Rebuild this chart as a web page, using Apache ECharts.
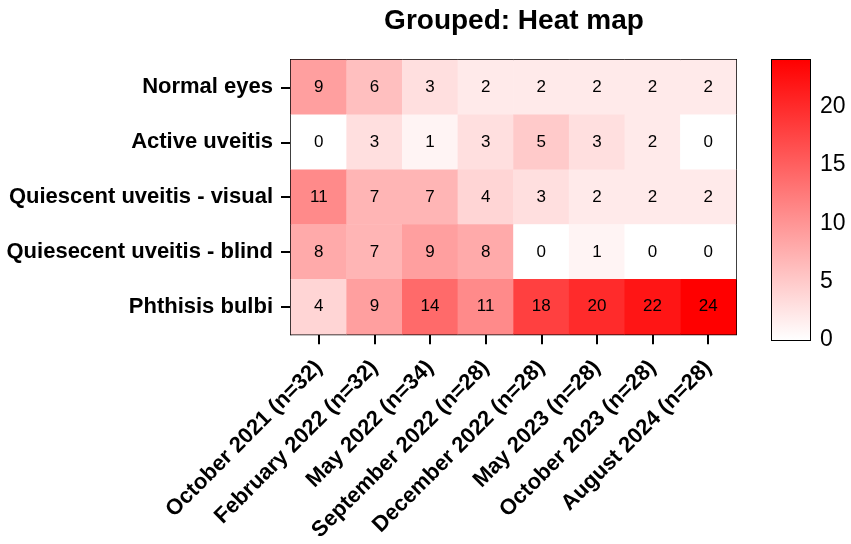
<!DOCTYPE html>
<html><head><meta charset="utf-8">
<script src="https://cdn.jsdelivr.net/npm/echarts@6/dist/echarts.min.js"></script>
<style>html,body{margin:0;padding:0;background:#fff}#c{width:851px;height:544px}</style>
</head><body><div id="c"></div>
<script>
const title = 'Grouped: Heat map';
const timepoints = ['October 2021 (n=32)','February 2022 (n=32)','May 2022 (n=34)','September 2022 (n=28)','December 2022 (n=28)','May 2023 (n=28)','October 2023 (n=28)','August 2024 (n=28)'];
const groups = ['Normal eyes','Active uveitis','Quiescent uveitis - visual','Quiesecent uveitis - blind','Phthisis bulbi'];
const normalEyes = [9,6,3,2,2,2,2,2];
const activeUveitis = [0,3,1,3,5,3,2,0];
const quiescentVisual = [11,7,7,4,3,2,2,2];
const quiescentBlind = [8,7,9,8,0,1,0,0];
const phthisisBulbi = [4,9,14,11,18,20,22,24];
const scaleMin = 0, scaleMax = 24, scaleStep = 5;

const rows = [normalEyes, activeUveitis, quiescentVisual, quiescentBlind, phthisisBulbi];
const cells = [];
rows.forEach((r, yi) => r.forEach((v, xi) => cells.push([xi, yi, v])));

const font = '"Liberation Sans", Arial, sans-serif';
const chart = echarts.init(document.getElementById('c'));
chart.setOption({
  animation: false,
  textStyle: {fontFamily: font},
  title: {text: title, left: 509, top: 2, textAlign: 'center',
    textStyle: {fontFamily: font, fontSize: 28, fontWeight: 'bold', color: '#000'}},
  grid: [
    {left: 291, top: 60, width: 445, height: 279, show: true, borderColor: '#000', borderWidth: 2, backgroundColor: 'transparent', containLabel: false},
    {left: 772, top: 60, width: 38, height: 280, show: true, borderColor: '#000', borderWidth: 2, backgroundColor: 'transparent', containLabel: false}
  ],
  xAxis: [
    {type: 'category', gridIndex: 0, data: timepoints, position: 'bottom',
      axisLine: {show: true, lineStyle: {color: '#000', width: 2}},
      axisTick: {show: true, alignWithLabel: true, length: 10, lineStyle: {color: '#000', width: 2}},
      axisLabel: {rotate: 45, interval: 0, color: '#000', fontFamily: font, fontSize: 22, fontWeight: 'bold', margin: 30},
      splitLine: {show: false}},
    {type: 'category', gridIndex: 1, data: ['scale'], show: false}
  ],
  yAxis: [
    {type: 'category', gridIndex: 0, data: groups, inverse: true,
      axisLine: {show: true, lineStyle: {color: '#000', width: 2}},
      axisTick: {show: true, alignWithLabel: true, length: 10, lineStyle: {color: '#000', width: 2}},
      axisLabel: {color: '#000', fontFamily: font, fontSize: 22, fontWeight: 'bold', margin: 18},
      splitLine: {show: false}},
    {type: 'value', gridIndex: 1, position: 'left', min: scaleMin, max: scaleMax, interval: scaleStep,
      axisLine: {show: false},
      axisTick: {show: true, inside: true, length: 7, lineStyle: {color: '#000', width: 2}},
      axisLabel: {show: false}, splitLine: {show: false}},
    {type: 'value', gridIndex: 1, position: 'right', min: scaleMin, max: scaleMax, interval: scaleStep,
      axisLine: {show: false},
      axisTick: {show: true, inside: true, length: 7, lineStyle: {color: '#000', width: 2}},
      axisLabel: {show: true, inside: false, margin: 10, color: '#000', fontFamily: font, fontSize: 23,
        formatter: v => (v % scaleStep === 0 ? String(v) : '')},
      splitLine: {show: false}}
  ],
  visualMap: {show: false, min: scaleMin, max: scaleMax, seriesIndex: 0, dimension: 2,
    inRange: {color: ['#ffffff', '#ff0000']}},
  series: [
    {type: 'heatmap', xAxisIndex: 0, yAxisIndex: 0, data: cells,
      label: {show: true, color: '#000', fontFamily: font, fontSize: 17},
      itemStyle: {borderWidth: 0}},
    {type: 'bar', xAxisIndex: 1, yAxisIndex: 1, data: [scaleMax], barWidth: '100%', silent: true,
      itemStyle: {color: new echarts.graphic.LinearGradient(0, 0, 0, 1, [
        {offset: 0, color: '#ff0000'}, {offset: 1, color: '#ffffff'}])}}
  ]
});
</script></body></html>
